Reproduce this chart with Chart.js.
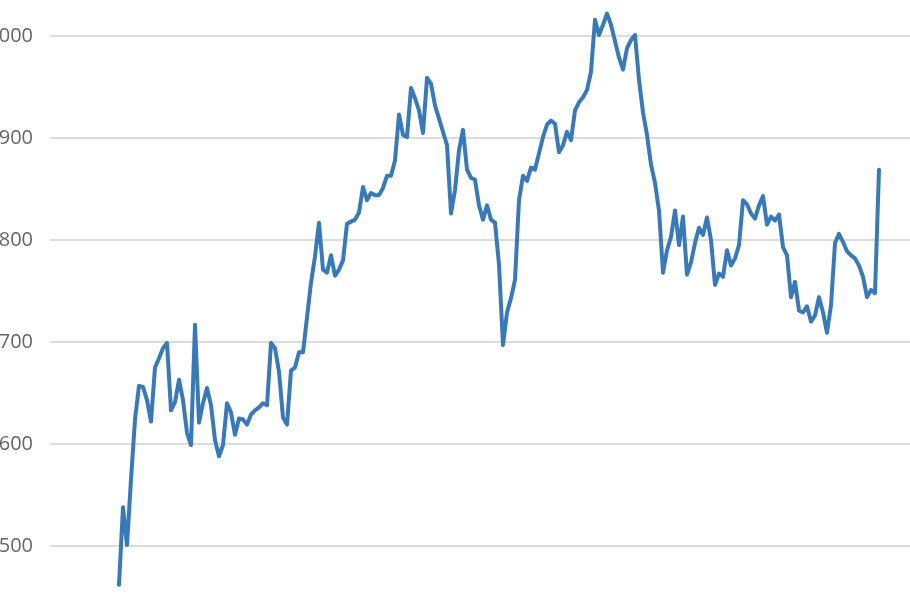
<!DOCTYPE html>
<html>
<head>
<meta charset="utf-8">
<script src="https://cdn.jsdelivr.net/npm/chart.js@4/dist/chart.umd.min.js"></script>
<style>
  html, body { margin: 0; padding: 0; background: #fff; overflow: hidden; }
  #wrap { position: absolute; left: -18px; top: 0; width: 948px; height: 596px; }
</style>
</head>
<body>
<div id="wrap"><canvas id="priceChart"></canvas></div>
<script>
// closing values, one per week
const closes = [
  1462, 1538, 1501, 1565, 1624, 1657, 1656, 1643, 1622, 1675,
  1684, 1694, 1699, 1633, 1641, 1663, 1643, 1611, 1599, 1717,
  1621, 1640, 1655, 1638, 1604, 1588, 1599, 1640, 1631, 1609,
  1625, 1624, 1619, 1629, 1633, 1636, 1640, 1638, 1699, 1694,
  1671, 1626, 1619, 1672, 1675, 1690, 1690, 1724, 1758, 1784,
  1817, 1771, 1768, 1785, 1765, 1771, 1780, 1816, 1818, 1820,
  1827, 1852, 1839, 1846, 1844, 1844, 1851, 1863, 1863, 1878,
  1923, 1903, 1901, 1949, 1939, 1927, 1905, 1959, 1953, 1932,
  1919, 1906, 1893, 1826, 1849, 1888, 1908, 1869, 1861, 1859,
  1834, 1820, 1834, 1820, 1817, 1776, 1697, 1729, 1743, 1761,
  1839, 1863, 1858, 1871, 1869, 1885, 1901, 1913, 1917, 1914,
  1886, 1893, 1906, 1898, 1927, 1935, 1940, 1947, 1965, 2016,
  2001, 2011, 2022, 2011, 1995, 1979, 1967, 1988, 1996, 2001,
  1957, 1925, 1903, 1874, 1856, 1829, 1768, 1790, 1803, 1829,
  1795, 1823, 1766, 1778, 1797, 1812, 1805, 1822, 1800, 1756,
  1767, 1764, 1790, 1775, 1782, 1795, 1839, 1835, 1826, 1821,
  1834, 1843, 1815, 1823, 1819, 1825, 1793, 1785, 1744, 1759,
  1731, 1729, 1735, 1720, 1726, 1744, 1729, 1709, 1736, 1797,
  1806, 1798, 1789, 1785, 1782, 1775, 1764, 1744, 1751, 1748,
  1869
];
const weeks = closes.map((_, i) => i);
const yTicks = [1500, 1600, 1700, 1800, 1900, 2000];

new Chart(document.getElementById("priceChart"), {
  type: "line",
  data: {
    labels: weeks,
    datasets: [
      {
        data: closes,
        borderColor: "#3879ba",
        borderWidth: 4,
        borderJoinStyle: "round",
        borderCapStyle: "round",
        pointRadius: 0,
        tension: 0,
        fill: false,
      },
    ],
  },
  options: {
    responsive: true,
    maintainAspectRatio: false,
    animation: false,
    layout: { padding: 0 },
    plugins: {
      legend: { display: false },
      tooltip: { enabled: false },
    },
    scales: {
      x: {
        type: "linear",
        display: false,
        min: -17.25,
        max: 202.75,
      },
      y: {
        min: 1451,
        max: 2035.3,
        border: { display: false },
        grid: {
          color: "#dcdcdc",
          lineWidth: 2,
          drawTicks: false,
        },
        ticks: {
          padding: 17,
          color: "#666",
          font: { family: "Open Sans", size: 20 },
          callback: (v) => String(v),
        },
        afterBuildTicks: (s) => {
          s.ticks = yTicks.map((v) => ({ value: v }));
        },
        afterFit: (s) => {
          s.width = 68;
          s.paddingTop = 0;
          s.paddingBottom = 0;
        },
      },
    },
  },
});
</script>
</body>
</html>
